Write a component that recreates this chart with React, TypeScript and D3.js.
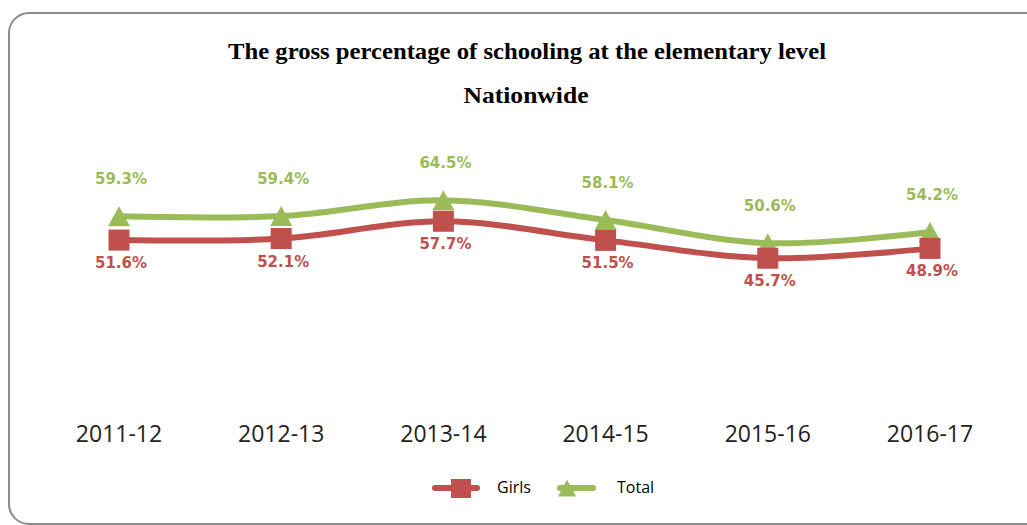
import React from "react";
import * as d3 from "d3";

const categories = ["2011-12", "2012-13", "2013-14", "2014-15", "2015-16", "2016-17"];
const girlsValues = [51.6, 52.1, 57.7, 51.5, 45.7, 48.9];
const totalValues = [59.3, 59.4, 64.5, 58.1, 50.6, 54.2];
const titleLines = ["The gross percentage of schooling at the elementary level", "Nationwide"];
const seriesNames = ["Girls", "Total"];

const RED = "#C0504D";
const GREEN = "#9BBB59";

export default function App() {
  const W = 1027;
  const H = 525;
  const x = d3.scalePoint<string>().domain(categories).range([119, 930]);
  const y = d3.scaleLinear().domain([0, 100]).range([399, 91]);

  const line = d3
    .line<number>()
    .x((_, i) => x(categories[i]) as number)
    .y((d) => y(d))
    .curve(d3.curveCardinal.tension(0));

  const tri = (cx: number, cy: number, w: number, h: number) =>
    `M${cx},${cy - h / 2}L${cx + w / 2},${cy + h / 2}L${cx - w / 2},${cy + h / 2}Z`;

  const labelFont = "'DejaVu Sans', Verdana, sans-serif";

  return (
    <svg
      width={W}
      height={H}
      style={{ position: "absolute", left: 0, top: 0, background: "#fff" }}
    >
      <rect x={9} y={13} width={1040} height={511} rx={20} ry={20} fill="#fff" stroke="#8c8c8c" strokeWidth={2} />

      <text
        x={527}
        y={59}
        textAnchor="middle"
        fontFamily="'Liberation Serif', 'Times New Roman', serif"
        fontWeight="bold"
        fontSize={24}
        textLength={598}
        lengthAdjust="spacingAndGlyphs"
        fill="#000"
      >
        {titleLines[0]}
      </text>
      <text
        x={526}
        y={103}
        textAnchor="middle"
        fontFamily="'Liberation Serif', 'Times New Roman', serif"
        fontWeight="bold"
        fontSize={24}
        textLength={125}
        lengthAdjust="spacingAndGlyphs"
        fill="#000"
      >
        {titleLines[1]}
      </text>

      {/* lines */}
      <path d={line(girlsValues) || ""} fill="none" stroke={RED} strokeWidth={6} strokeLinecap="round" />
      <path d={line(totalValues) || ""} fill="none" stroke={GREEN} strokeWidth={6} strokeLinecap="round" />

      {/* markers */}
      {totalValues.map((v, i) => (
        <path key={"t" + i} d={tri(x(categories[i]) as number, y(v), 22, 20)} fill={GREEN} />
      ))}
      {girlsValues.map((v, i) => (
        <rect
          key={"g" + i}
          x={(x(categories[i]) as number) - 10.5}
          y={y(v) - 10.5}
          width={21}
          height={21}
          fill={RED}
        />
      ))}

      {/* data labels */}
      {totalValues.map((v, i) => (
        <text
          key={"tl" + i}
          x={(x(categories[i]) as number) + 2}
          y={y(v) - 32}
          textAnchor="middle"
          fontFamily={labelFont}
          fontWeight="bold"
          fontSize={15}
          fill={GREEN}
        >
          {v.toFixed(1)}%
        </text>
      ))}
      {girlsValues.map((v, i) => (
        <text
          key={"gl" + i}
          x={(x(categories[i]) as number) + 2}
          y={y(v) + 28}
          textAnchor="middle"
          fontFamily={labelFont}
          fontWeight="bold"
          fontSize={15}
          fill={RED}
        >
          {v.toFixed(1)}%
        </text>
      ))}

      {/* category axis labels */}
      {categories.map((c) => (
        <text
          key={c}
          x={x(c) as number}
          y={442}
          textAnchor="middle"
          fontFamily="'Open Sans', sans-serif"
          fontSize={23}
          fill="#222"
        >
          {c}
        </text>
      ))}

      {/* legend */}
      <line x1={435} x2={477} y1={488} y2={488} stroke={RED} strokeWidth={6} strokeLinecap="round" />
      <rect x={451} y={479} width={20} height={19} fill={RED} />
      <text x={497} y={493} fontFamily="'Open Sans', sans-serif" fontSize={16} fill="#000">
        {seriesNames[0]}
      </text>
      <line x1={560} x2={593} y1={488} y2={488} stroke={GREEN} strokeWidth={6} strokeLinecap="round" />
      <path d={tri(567, 488, 18, 17)} fill={GREEN} />
      <text x={617} y={493} fontFamily="'Open Sans', sans-serif" fontSize={16} fill="#000">
        {seriesNames[1]}
      </text>
    </svg>
  );
}
